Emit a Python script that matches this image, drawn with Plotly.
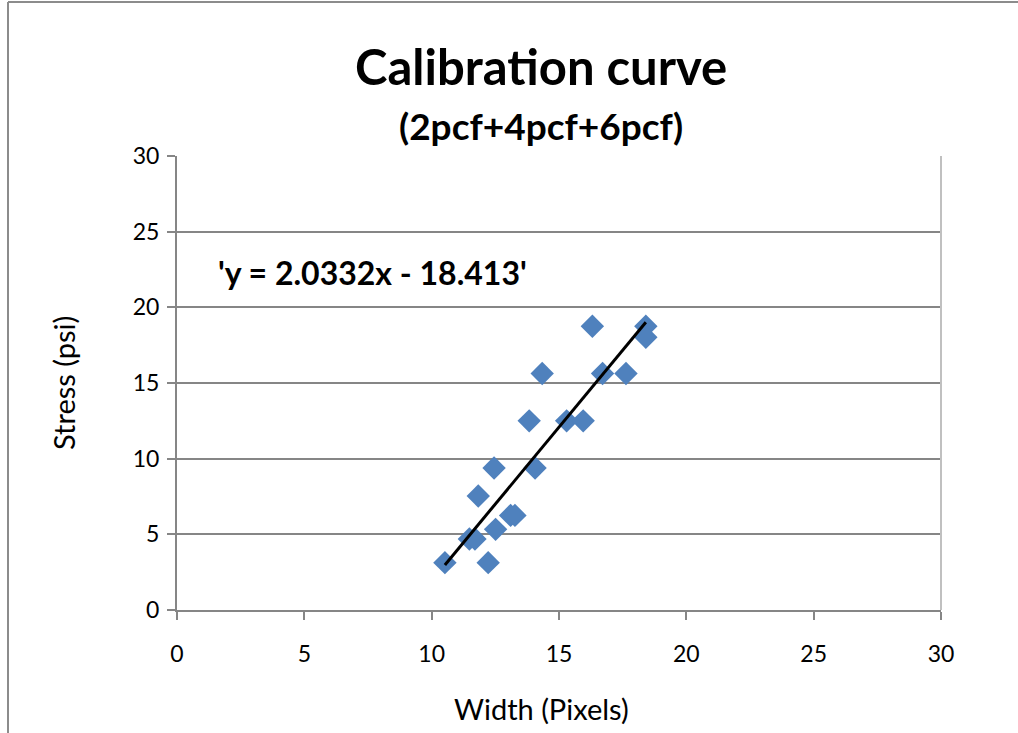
import numpy as np
import plotly.graph_objects as go

# Measured widths (pixels) and applied stresses (psi) for 2, 4 and 6 pcf foams
width_px = [10.52, 12.22, 11.48, 11.70, 12.51, 13.10, 13.27, 11.83, 12.45, 14.06,
            13.83, 15.30, 15.95, 14.34, 16.71, 17.63, 16.31, 18.41, 18.41]
stress_psi = [3.13, 3.13, 4.69, 4.69, 5.33, 6.25, 6.25, 7.53, 9.38, 9.38,
              12.50, 12.50, 12.50, 15.63, 15.63, 15.63, 18.75, 18.75, 18.02]

# Linear fit reported on the chart
slope = 2.0332
intercept = -18.413

axis_ticks = [0, 5, 10, 15, 20, 25, 30]

FONT = "Lato, 'Open Sans', sans-serif"
GRID = "#868686"

# plot area in pixels: x 177..941, y 156..610
PA_W, PA_H = 764, 454

fit_x = np.array([min(width_px), max(width_px)])
fit_y = slope * fit_x + intercept

fig = go.Figure()
fig.add_trace(go.Scatter(
    x=width_px, y=stress_psi, mode="markers",
    marker=dict(symbol="diamond", size=18, color="#4F81BD",
                line=dict(width=0)),
    showlegend=False,
))
fig.add_trace(go.Scatter(
    x=fit_x, y=fit_y, mode="lines",
    line=dict(color="black", width=3),
    showlegend=False,
))

fig.update_layout(
    width=1018, height=733,
    margin=dict(l=177, r=77, t=156, b=123),
    paper_bgcolor="white", plot_bgcolor="white",
    font=dict(family=FONT, color="black"),
    xaxis=dict(
        range=[0, 30], tickvals=axis_ticks, showgrid=False, zeroline=False,
        showline=True, linecolor=GRID, linewidth=2,
        ticks="outside", ticklen=8, tickcolor=GRID, tickwidth=2,
        tickfont=dict(size=23, family=FONT), ticklabelstandoff=14,
    ),
    yaxis=dict(
        range=[0, 30], tickvals=axis_ticks, showgrid=True, gridcolor=GRID,
        gridwidth=2, zeroline=False,
        showline=True, linecolor=GRID, linewidth=2,
        ticks="outside", ticklen=8, tickcolor=GRID, tickwidth=2,
        tickfont=dict(size=23, family=FONT), ticklabelstandoff=3,
    ),
    annotations=[
        dict(text="<b>Calibration curve</b>", x=0.477, y=1.0 + (156 - 66) / PA_H,
             xref="paper", yref="paper", showarrow=False,
             font=dict(size=49, family=FONT), xanchor="center", yanchor="middle"),
        dict(text="<b>(2pcf+4pcf+6pcf)</b>", x=0.477, y=1.0 + (156 - 125) / PA_H,
             xref="paper", yref="paper", showarrow=False,
             font=dict(size=37, family=FONT), xanchor="center", yanchor="middle"),
        dict(text="<b>'y = 2.0332x - 18.413'</b>", x=1.55, y=22.3,
             xref="x", yref="y", showarrow=False,
             font=dict(size=32, family=FONT), xanchor="left", yanchor="middle"),
        # axis titles
        dict(text="Width (Pixels)", x=(541 - 177) / PA_W, y=(610 - 708) / PA_H,
             xref="paper", yref="paper", showarrow=False,
             font=dict(size=29, family=FONT), xanchor="center", yanchor="middle"),
        dict(text="Stress (psi)", x=(63 - 177) / PA_W, y=(610 - 383) / PA_H,
             xref="paper", yref="paper", showarrow=False, textangle=-90,
             font=dict(size=29, family=FONT), xanchor="center", yanchor="middle"),
    ],
    shapes=[
        # light frame on the right edge of the plotting area
        dict(type="line", xref="paper", yref="paper", x0=1, x1=1, y0=0, y1=1,
             line=dict(color="#C0C0C0", width=2)),
        # outer chart border (left and top)
        dict(type="line", xref="paper", yref="paper",
             x0=(8 - 177) / PA_W, x1=(8 - 177) / PA_W,
             y0=(610 - 733) / PA_H, y1=(610 - 2) / PA_H,
             line=dict(color="#8C8C8C", width=2)),
        dict(type="line", xref="paper", yref="paper",
             x0=(8 - 177) / PA_W, x1=(1018 - 177) / PA_W,
             y0=(610 - 2) / PA_H, y1=(610 - 2) / PA_H,
             line=dict(color="#8C8C8C", width=2)),
    ],
)

fig.write_html("out.html")
